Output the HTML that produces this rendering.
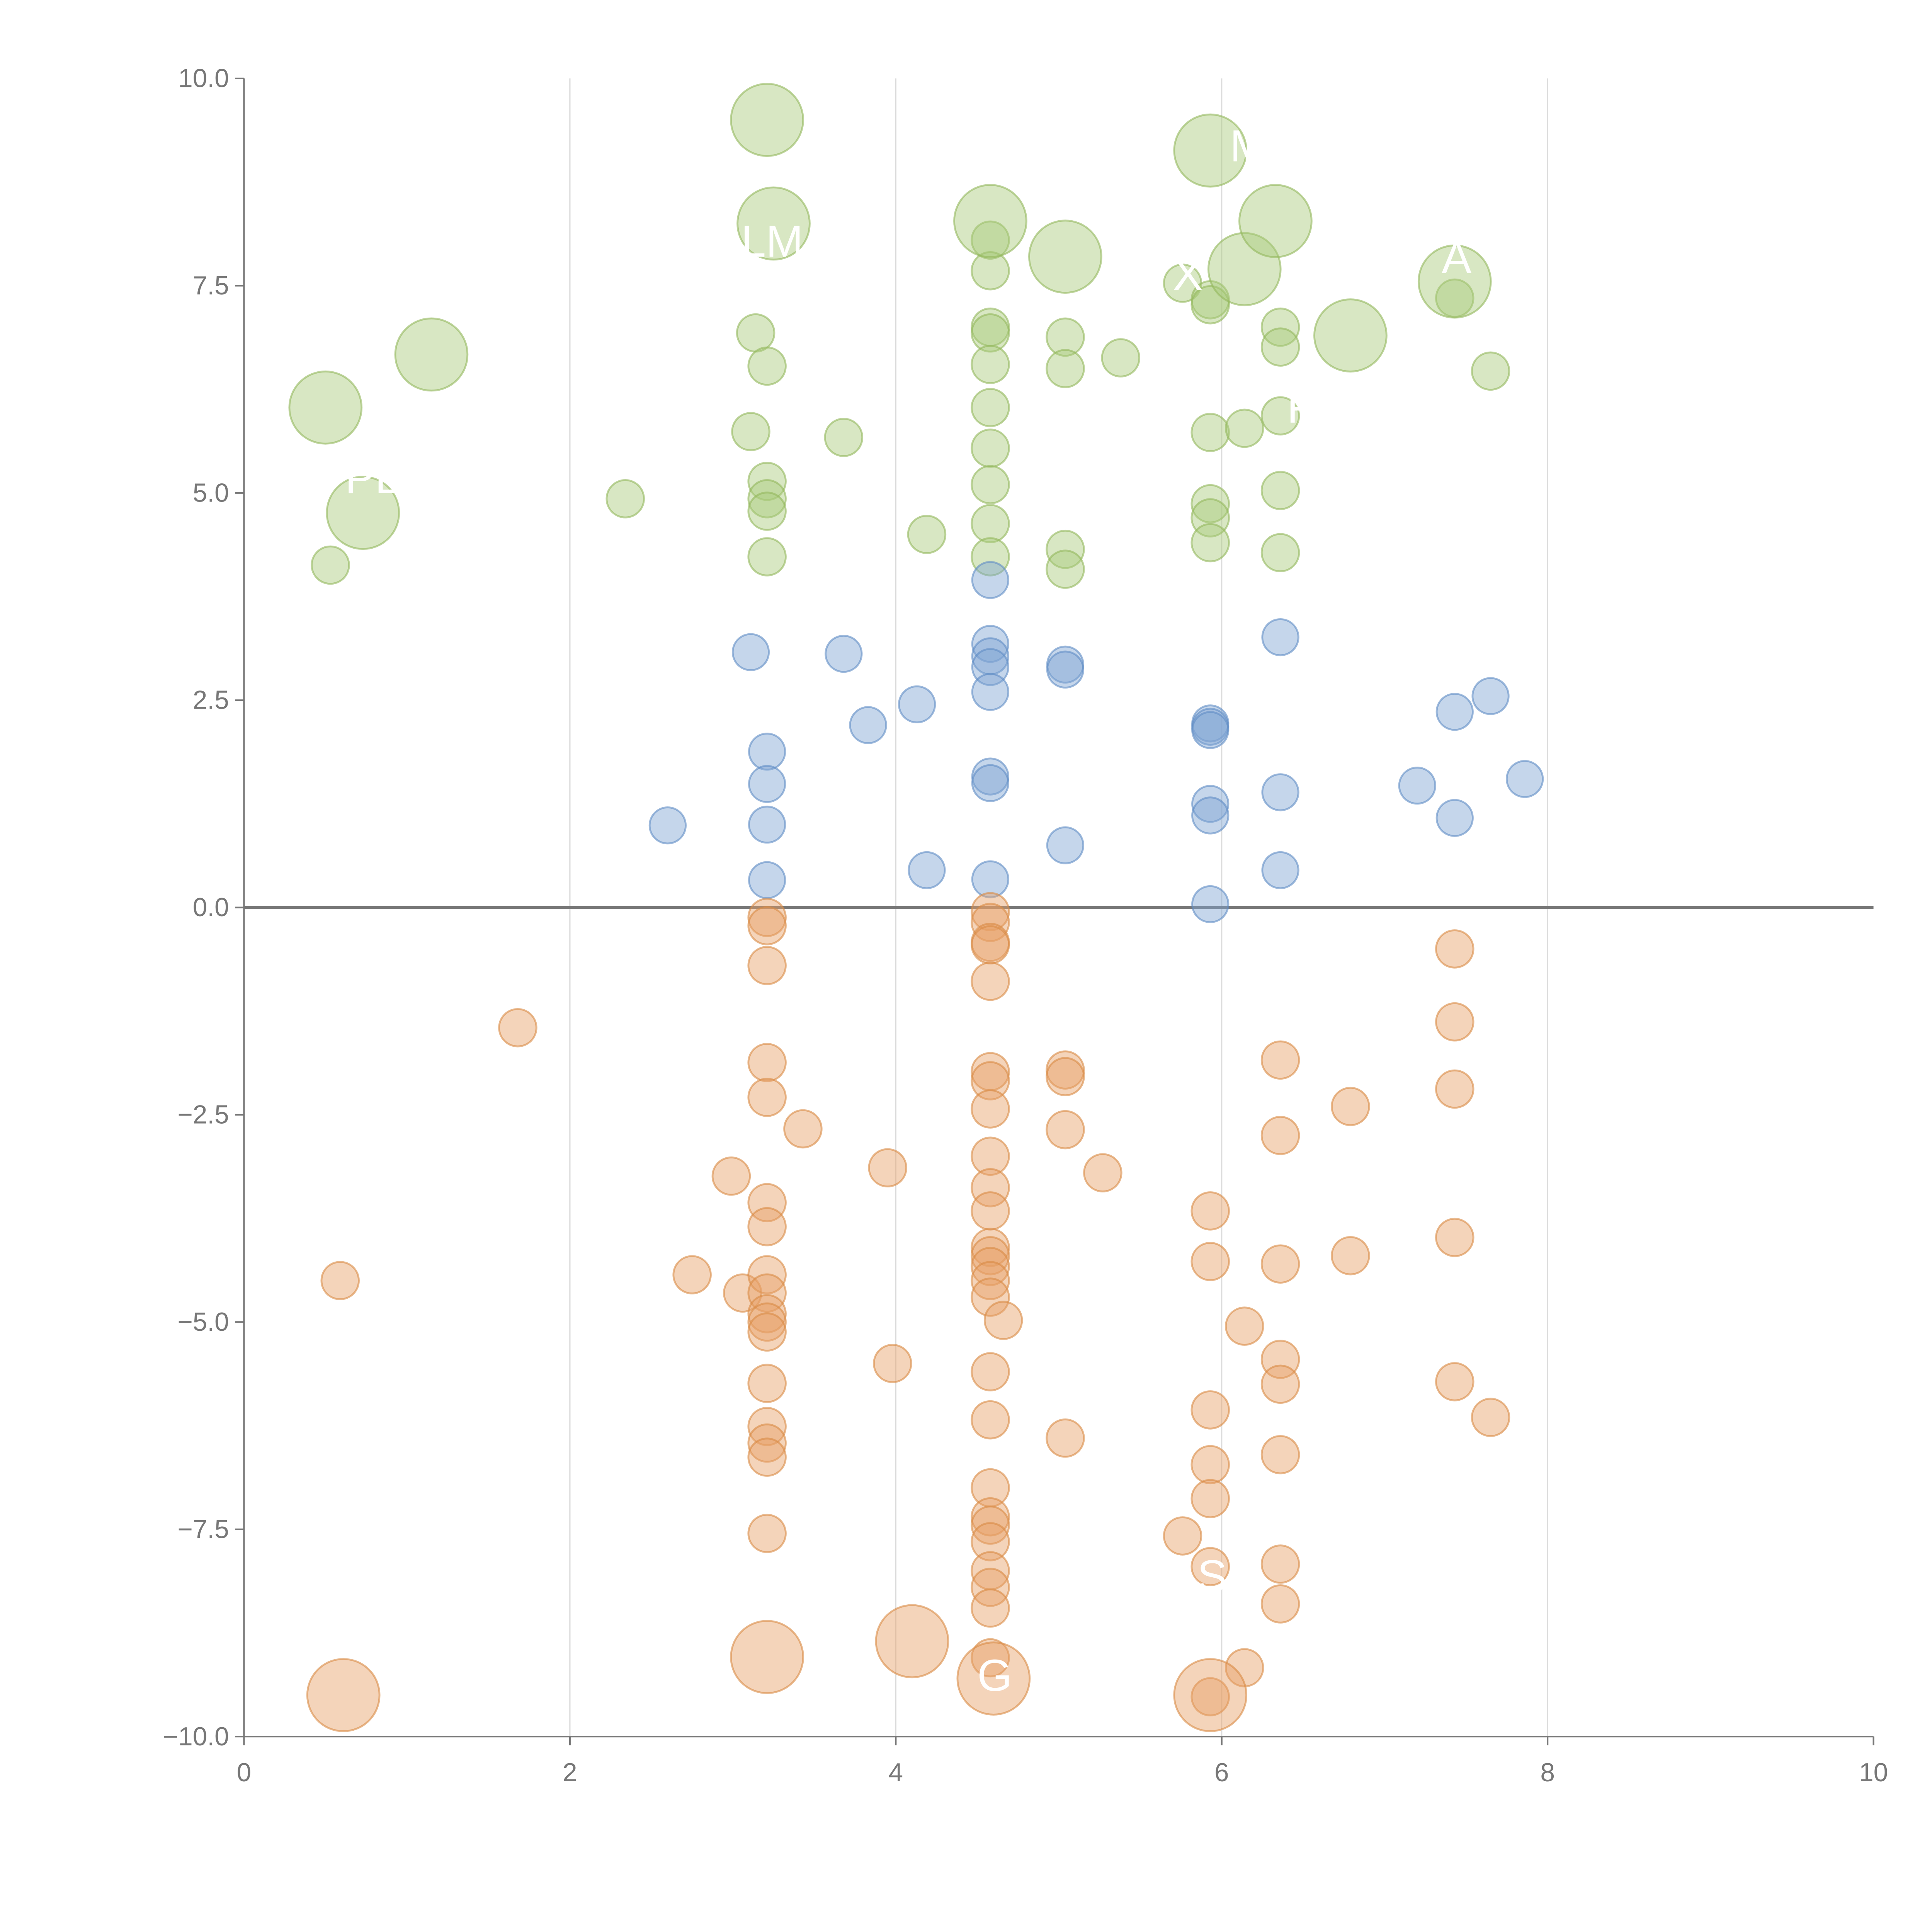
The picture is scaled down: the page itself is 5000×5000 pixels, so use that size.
<!DOCTYPE html>
<html><head><meta charset="utf-8"><style>
html,body{margin:0;padding:0;background:#fff;}
svg{display:block;}
text{font-family:"Liberation Sans",sans-serif;}
</style></head>
<body>
<svg id="chart" width="5000" height="5000" viewBox="0 0 1552 1552" xmlns="http://www.w3.org/2000/svg">
<g id="grid"></g>
<g id="axes"></g>
<g id="marks"></g>
<g id="labels"></g>
</svg>
<script>
const xTicks=[0,2,4,6,8,10];
const yTicks=[-10,-7.5,-5,-2.5,0,2.5,5,7.5,10];
const yTickLabels=["−10.0","−7.5","−5.0","−2.5","0.0","2.5","5.0","7.5","10.0"];
const greenSmall=[[0.53,4.13],[2.34,4.93],[3.14,6.93],[3.21,6.53],[3.11,5.74],[3.21,5.14],[3.21,4.93],[3.21,4.78],[3.21,4.23],[3.68,5.67],[4.19,4.5],[4.58,8.05],[4.58,7.68],[4.58,7.0],[4.58,6.93],[4.58,6.55],[4.58,6.03],[4.58,5.54],[4.58,5.1],[4.58,4.63],[4.58,4.23],[5.04,6.88],[5.04,6.5],[5.04,4.32],[5.04,4.08],[5.38,6.63],[5.76,7.53],[5.93,7.33],[5.93,7.27],[5.93,5.73],[5.93,4.87],[5.93,4.7],[5.93,4.4],[6.14,5.78],[6.36,7.0],[6.36,6.76],[6.36,5.93],[6.36,5.03],[6.36,4.28],[7.43,7.35],[7.65,6.47]];
const greenLarge=[[0.5,6.03],[0.73,4.76],[1.15,6.67],[3.21,9.5],[3.25,8.25],[4.58,8.28],[5.04,7.85],[5.93,9.13],[6.14,7.7],[6.33,8.28],[6.79,6.9],[7.43,7.55]];
const blueSmall=[[2.6,0.99],[3.11,3.08],[3.21,1.88],[3.21,1.49],[3.21,1.0],[3.21,0.33],[3.68,3.06],[3.83,2.2],[4.13,2.45],[4.19,0.45],[4.58,3.95],[4.58,3.18],[4.58,3.03],[4.58,2.9],[4.58,2.6],[4.58,1.58],[4.58,1.5],[4.58,0.34],[5.04,2.93],[5.04,2.87],[5.04,0.75],[5.93,2.22],[5.93,2.18],[5.93,2.14],[5.93,1.25],[5.93,1.11],[5.93,0.04],[6.36,3.26],[6.36,1.39],[6.36,0.45],[7.2,1.47],[7.43,2.36],[7.43,1.08],[7.65,2.55],[7.86,1.55]];
const orangeSmall=[[1.68,-1.45],[0.59,-4.5],[2.75,-4.43],[2.99,-3.24],[3.06,-4.65],[3.21,-0.12],[3.21,-0.22],[3.21,-0.7],[3.21,-1.87],[3.21,-2.29],[3.21,-3.56],[3.21,-3.85],[3.21,-4.43],[3.21,-4.65],[3.21,-4.9],[3.21,-5.0],[3.21,-5.12],[3.21,-5.74],[3.21,-6.26],[3.21,-6.46],[3.21,-6.63],[3.21,-7.55],[3.43,-2.67],[3.95,-3.14],[3.98,-5.5],[4.58,-0.05],[4.58,-0.18],[4.58,-0.42],[4.58,-0.45],[4.58,-0.89],[4.58,-1.98],[4.58,-2.09],[4.58,-2.43],[4.58,-3.0],[4.58,-3.38],[4.58,-3.66],[4.58,-4.1],[4.58,-4.2],[4.58,-4.33],[4.58,-4.5],[4.58,-4.7],[4.66,-4.98],[4.58,-5.6],[4.58,-6.18],[4.58,-7.0],[4.58,-7.35],[4.58,-7.45],[4.58,-7.65],[4.58,-8.0],[4.58,-8.2],[4.58,-8.45],[4.58,-9.05],[5.04,-1.96],[5.04,-2.04],[5.04,-2.68],[5.04,-6.4],[5.27,-3.2],[5.76,-7.58],[5.93,-3.66],[5.93,-4.27],[5.93,-6.06],[5.93,-6.72],[5.93,-7.13],[5.93,-7.95],[5.93,-9.52],[6.14,-5.05],[6.14,-9.17],[6.36,-1.84],[6.36,-2.75],[6.36,-4.3],[6.36,-5.45],[6.36,-5.75],[6.36,-6.6],[6.36,-7.92],[6.36,-8.4],[6.79,-2.4],[6.79,-4.2],[7.43,-0.5],[7.43,-1.38],[7.43,-2.19],[7.43,-3.98],[7.43,-5.72],[7.65,-6.15]];
const orangeLarge=[[0.61,-9.5],[3.21,-9.04],[4.1,-8.85],[4.6,-9.3],[5.93,-9.5]];
const pointLabels=[["M",6.05,9.0],["X",5.7,7.45],["A",7.35,7.65],["G",4.5,-9.45],["LM",3.05,7.85],["P",6.4,5.85],["S",5.85,-8.25],["PE",0.62,5.0]];

const NS="http://www.w3.org/2000/svg";
const X=v=>196+v*130.9;
const Y=v=>729-v*66.6;
function mk(tag,attrs,parent){const e=document.createElementNS(NS,tag);for(const k in attrs)e.setAttribute(k,attrs[k]);parent.appendChild(e);return e;}
const grid=document.getElementById('grid'),axes=document.getElementById('axes'),marks=document.getElementById('marks'),labels=document.getElementById('labels');

[2,4,6,8].forEach(v=>{
  const l=mk('line',{x1:X(v),x2:X(v),y1:Y(10),y2:Y(-10),stroke:'#dcdcdc','stroke-width':1},grid);
  
  
});
const ax=mk('line',{x1:X(0),x2:X(0),y1:Y(10),y2:Y(-10),stroke:'#777','stroke-width':1.3},axes);


const bx=mk('line',{x1:X(0),x2:X(10),y1:Y(-10),y2:Y(-10),stroke:'#777','stroke-width':1.3},axes);


const zl=mk('line',{x1:X(0),x2:X(10),y1:Y(0),y2:Y(0),stroke:'#777','stroke-width':2.5},axes);


xTicks.forEach(v=>{
  mk('line',{x1:X(v),x2:X(v),y1:Y(-10),y2:Y(-10)+7,stroke:'#777','stroke-width':1.3},axes);
  const t=mk('text',{x:X(v),y:Y(-10)+36,'text-anchor':'middle','font-size':21,fill:'#777'},axes);
  t.textContent=v;
  
  
});
yTicks.forEach((v,i)=>{
  mk('line',{x1:X(0)-7,x2:X(0),y1:Y(v),y2:Y(v),stroke:'#777','stroke-width':1.3},axes);
  const t=mk('text',{x:X(0)-12,y:Y(v)+7,'text-anchor':'end','font-size':21,fill:'#777'},axes);
  t.textContent=yTickLabels[i];
  
  
});
function draw(arr,r,fill,stroke,name){
  arr.forEach(p=>{
    const c=mk('circle',{cx:X(p[0]),cy:Y(p[1]),r:r,fill:fill,'fill-opacity':0.45,stroke:stroke,'stroke-opacity':0.6,'stroke-width':1.5},marks);
    
    
  });
}
draw(greenSmall,15,'#a9c97a','#92b85c','green-bubble');
draw(greenLarge,29,'#a9c97a','#92b85c','green-bubble-large');
draw(blueSmall,14.5,'#7ea4d2','#5f8cc4','blue-bubble');
draw(orangeSmall,15,'#e6a066','#d98a45','orange-bubble');
draw(orangeLarge,29,'#e6a066','#d98a45','orange-bubble-large');
pointLabels.forEach(p=>{
  const t=mk('text',{x:X(p[1]),y:Y(p[2]),'font-size':36,fill:'#fff'},labels);
  t.textContent=p[0];
  
  
});
</script>
</body></html>
